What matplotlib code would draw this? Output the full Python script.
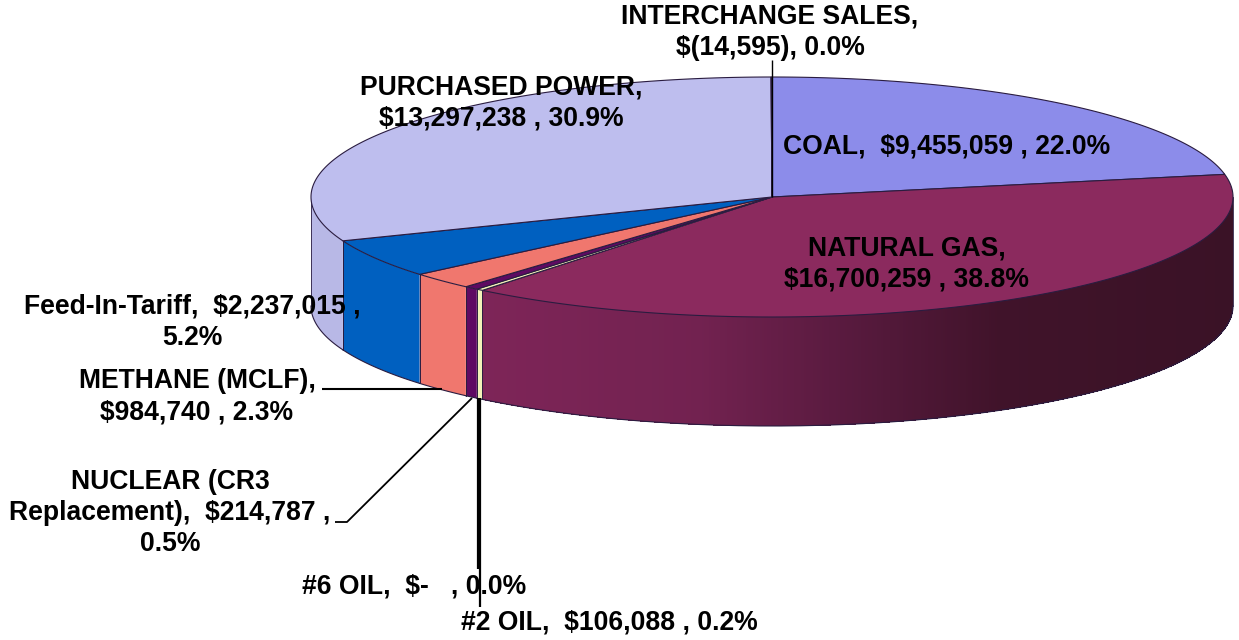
import numpy as np
import matplotlib
matplotlib.use('Agg')
import matplotlib.pyplot as plt

# clockwise from 12 o'clock
names = ['COAL', 'NATURAL GAS', '#2 OIL', '#6 OIL', 'NUCLEAR', 'METHANE', 'FIT', 'PURCHASED', 'INTERCHANGE']
values = [9455059, 16700259, 106088, 0, 214787, 984740, 2237015, 13297238, 14595]
top_colors = ['#8C8CEA', '#8B2A5E', '#F2F2B8', '#FFFFFF', '#5E0A62', '#F0776E', '#0060C0', '#BEBEEE', '#BEBEEE']
side_colors = ['#8C8CEA', '#7E2558', '#F2F2B8', '#FFFFFF', '#5E0A62', '#F0776E', '#0060C0', '#B8B8E6', '#B8B8E6']

labels = [
    ('INTERCHANGE SALES,\n$(14,595), 0.0%', 770, 32),
    ('PURCHASED POWER,\n$13,297,238 , 30.9%', 501, 103),
    ('COAL,  $9,455,059 , 22.0%', 947, 147),
    ('NATURAL GAS,\n$16,700,259 , 38.8%', 907, 264),
    ('Feed-In-Tariff,  $2,237,015 ,\n5.2%', 192, 322),
    ('METHANE (MCLF),\n$984,740 , 2.3%', 197, 397),
    ('NUCLEAR (CR3\nReplacement),  $214,787 ,\n0.5%', 170, 513),
    ('#6 OIL,  $-   , 0.0%', 414, 587),
    ('#2 OIL,  $106,088 , 0.2%', 609, 623),
]

leaders = [
    ([772, 772], [60, 197], 1.0),
    ([322, 442], [389, 389], 1.5),
    ([335, 347, 472], [522, 522, 398], 1.3),
    ([477.5, 477.5], [398, 569], 1.6),
    ([479.5, 479.5], [398, 607], 1.6),
]

CX, CY, RX, RY, DEPTH = 772, 197, 461, 120, 109
EDGE = '#2A1C40'


def rim(t):
    return CX + RX * np.sin(t), CY - RY * np.cos(t)


def gas_shade(x):
    # side of the gas slice darkens towards the right
    stops = [480, 700, 850, 1000, 1234]
    r = np.interp(x, stops, [0x7E, 0x72, 0x58, 0x40, 0x3A])
    g = np.interp(x, stops, [0x25, 0x22, 0x1A, 0x13, 0x12])
    b = np.interp(x, stops, [0x58, 0x50, 0x3E, 0x2A, 0x26])
    return (r / 255, g / 255, b / 255)


fig = plt.figure(figsize=(12.39, 6.4), dpi=100)
ax = fig.add_axes([0, 0, 1, 1])
ax.set_xlim(0, 1239)
ax.set_ylim(640, 0)
ax.axis('off')

plt.rcParams['font.family'] = ['Liberation Sans', 'DejaVu Sans']

total = sum(values)
edges = 2 * np.pi * np.cumsum([0] + values) / total

# side wall, only the front half shows
for i, name in enumerate(names):
    t0, t1 = max(edges[i], np.pi / 2), min(edges[i + 1], 3 * np.pi / 2)
    if t1 <= t0:
        continue
    ts = np.linspace(t0, t1, max(int((t1 - t0) * 200), 2))
    x, y = rim(ts)
    if name == 'NATURAL GAS':
        # aliased strips, otherwise the seams show up as banding
        for j in range(len(ts) - 1):
            ax.fill([x[j], x[j + 1], x[j + 1], x[j]],
                    [y[j], y[j + 1], y[j + 1] + DEPTH, y[j] + DEPTH],
                    color=gas_shade(x[j]), lw=0, antialiased=False, zorder=2)
    else:
        ax.fill(np.r_[x, x[::-1]], np.r_[y, (y + DEPTH)[::-1]], color=side_colors[i], lw=0, zorder=2)
    ax.plot(x, y + DEPTH, color=EDGE, lw=0.8, zorder=3)
    ax.plot([x[0], x[0]], [y[0], y[0] + DEPTH], color=EDGE, lw=0.6, zorder=3)
    ax.plot([x[-1], x[-1]], [y[-1], y[-1] + DEPTH], color=EDGE, lw=0.6, zorder=3)

# top face
for i, name in enumerate(names):
    if values[i] == 0:
        continue
    ts = np.linspace(edges[i], edges[i + 1], max(int((edges[i + 1] - edges[i]) * 200), 2))
    x, y = rim(ts)
    ax.fill(np.r_[CX, x], np.r_[CY, y], facecolor=top_colors[i], edgecolor=EDGE, lw=0.8, zorder=4)

for xs, ys, lw in leaders:
    ax.plot(xs, ys, color='black', lw=lw, zorder=5, solid_capstyle='butt')

for text, x, y in labels:
    ax.text(x, y, text, ha='center', va='center', fontsize=19.1, fontweight='bold',
            color='black', linespacing=1.26, zorder=6)

fig.savefig('out.png', dpi=100)
